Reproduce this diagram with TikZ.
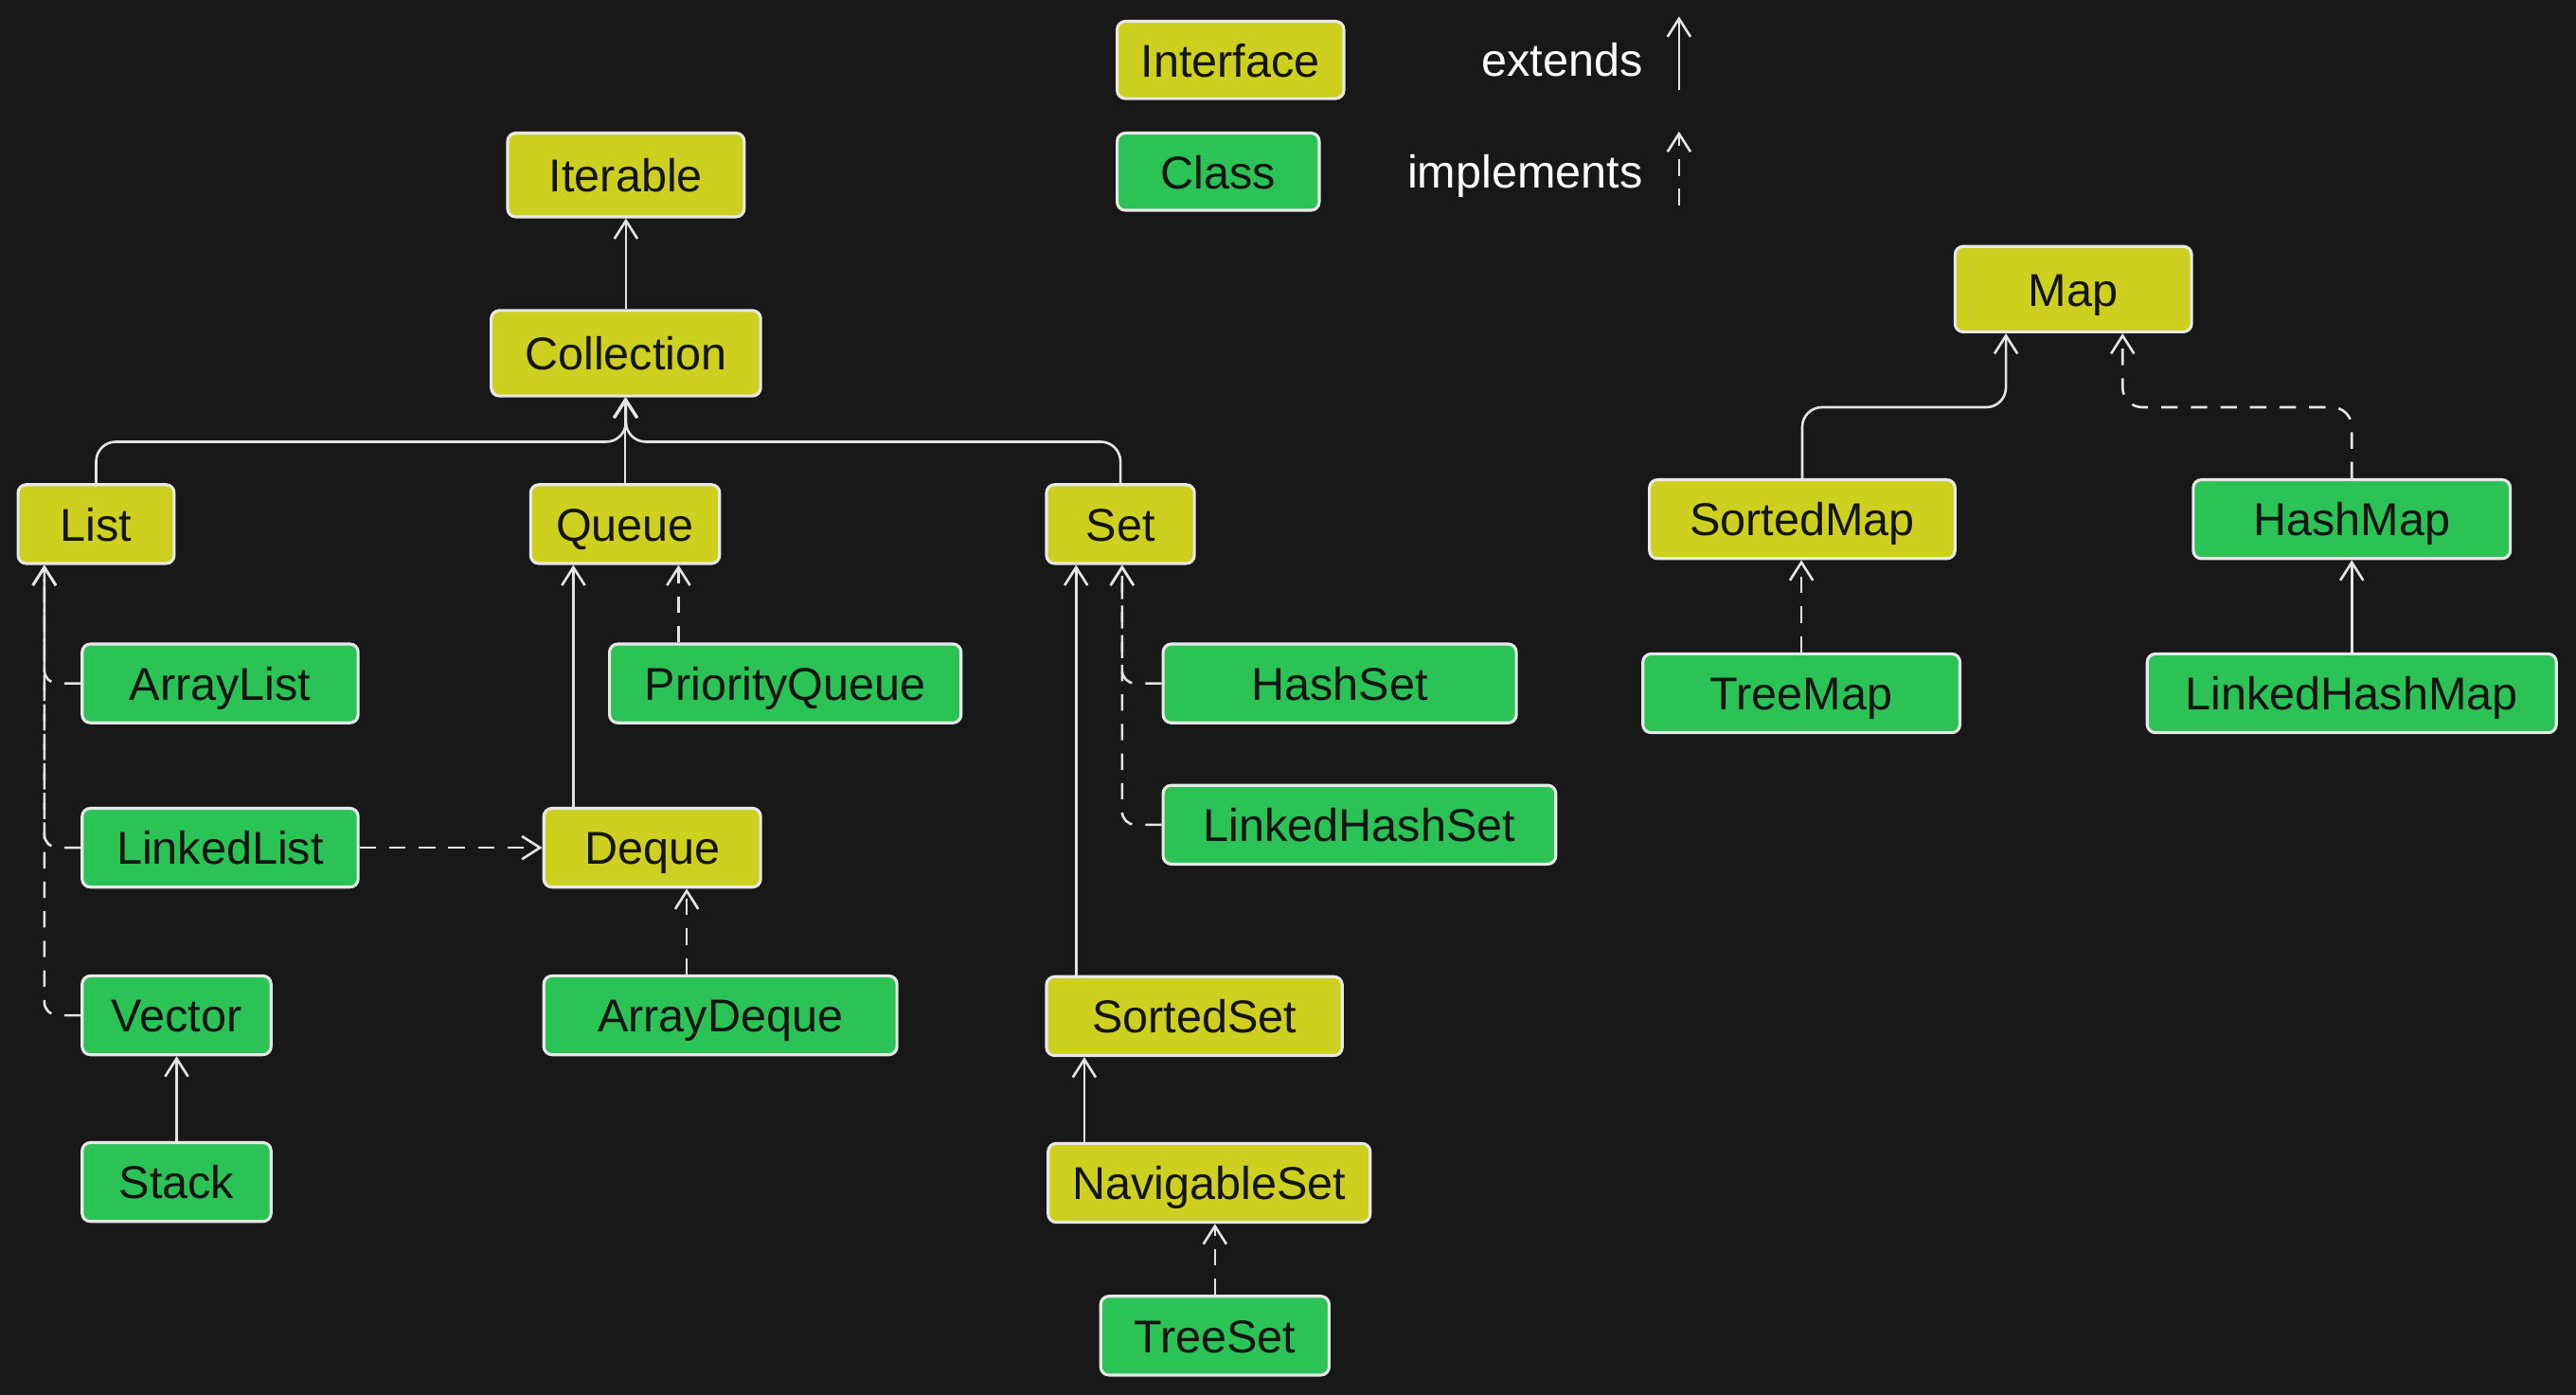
\documentclass[tikz,border=0pt]{standalone}
\usepackage{fontspec}
\setmainfont{Liberation Sans}
\usetikzlibrary{arrows.meta,calc}
\definecolor{bgc}{RGB}{24,24,24}
\definecolor{ifc}{RGB}{205,208,30}
\definecolor{clc}{RGB}{43,194,86}
\definecolor{edgec}{RGB}{232,232,232}
\definecolor{linec}{RGB}{228,228,228}
\definecolor{txt}{RGB}{20,20,20}
\newcommand{\boxfont}{\fontsize{28}{34}\selectfont}
\tikzset{
  boxbase/.style={draw=edgec, line width=1.8pt, rounded corners=5pt, inner sep=0pt,
    text=txt, font=\boxfont, text height=24pt, text depth=3.5pt, minimum height=48pt},
  iface/.style={boxbase, fill=ifc},
  cls/.style={boxbase, fill=clc},
  ext/.style={draw=linec, line width=1.5pt, -{Straight Barb[length=11pt,width=14pt,line width=1.5pt]}},
  impl/.style={ext, dash pattern=on 10pt off 8pt},
  legendtxt/.style={text=white, font=\boxfont, inner sep=0pt, anchor=east, text height=24pt, text depth=3.5pt},
}
\begin{document}
\begin{tikzpicture}[x=1pt,y=-1pt]
\fill[bgc] (0,0) rectangle (1568,849);
\useasboundingbox (0,0) rectangle (1568,849);

% legend
\node[iface, minimum width=138pt, minimum height=47pt] (leginterface) at (749,36.5) {Interface};
\node[cls, minimum width=123pt, minimum height=47pt] (legclass) at (741.5,104.5) {Class};
\node[legendtxt] (extlbl) at (1000,36) {extends};
\node[legendtxt] (impllbl) at (1000,104) {implements};
\coordinate (ea) at (1022,55);
\coordinate (eb) at (1022,10);
\coordinate (ia) at (1022,125);
\coordinate (ib) at (1022,80);
\draw[ext] (ea) -- (eb);
\draw[impl] (ia) -- (ib);

% Collection hierarchy
\node[iface, minimum width=144pt, minimum height=51pt] (iterable) at (381,106.5) {Iterable};
\node[iface, minimum width=164pt, minimum height=52pt] (coll) at (381,215) {Collection};
\node[iface, minimum width=95pt] (list) at (58.5,319) {List};
\node[iface, minimum width=115pt] (queue) at (380.5,319) {Queue};
\node[iface, minimum width=90pt] (set) at (682,319) {Set};

\node[cls, minimum width=168pt] (arraylist) at (134,416) {ArrayList};
\node[cls, minimum width=168pt] (linkedlist) at (134,516) {LinkedList};
\node[cls, minimum width=115pt] (vector) at (107.5,618) {Vector};
\node[cls, minimum width=115pt] (stack) at (107.5,719.5) {Stack};

\node[cls, minimum width=214pt] (pq) at (478,416) {PriorityQueue};
\node[iface, minimum width=132pt] (deque) at (397,516) {Deque};
\node[cls, minimum width=215pt] (arraydeque) at (438.5,618) {ArrayDeque};

\node[cls, minimum width=215pt] (hashset) at (815.5,416) {HashSet};
\node[cls, minimum width=239pt] (lhs) at (827.5,502) {LinkedHashSet};
\node[iface, minimum width=180pt] (sortedset) at (727,618.5) {SortedSet};
\node[iface, minimum width=196pt] (navset) at (736,720) {NavigableSet};
\node[cls, minimum width=139pt] (treeset) at (739.5,813) {TreeSet};

% Map hierarchy
\node[iface, minimum width=144pt, minimum height=52pt] (map) at (1262,176) {Map};
\node[iface, minimum width=186pt] (sortedmap) at (1097,316) {SortedMap};
\node[cls, minimum width=193pt] (hashmap) at (1431.5,316) {HashMap};
\node[cls, minimum width=193pt] (treemap) at (1096.5,422) {TreeMap};
\node[cls, minimum width=249pt] (lhm) at (1431.5,422) {LinkedHashMap};

% connectors
\draw[ext] (coll.north) -- (iterable.south);
\draw[ext, rounded corners=12pt] (list.north) |- ([yshift=-27pt]coll.south) -- (coll.south);
\draw[ext, rounded corners=12pt] (set.north) |- ([yshift=-27pt]coll.south) -- (coll.south);
\draw[ext] (queue.north) -- (queue.north |- coll.south);

\draw[impl, rounded corners=8pt] (arraylist.west) -| ([xshift=-31.5pt]list.south);
\draw[impl, rounded corners=8pt] (linkedlist.west) -| ([xshift=-31.5pt]list.south);
\draw[impl, rounded corners=8pt] (vector.west) -| ([xshift=-31.5pt]list.south);
\draw[ext] (stack.north) -- (vector.south);

\draw[impl] ([xshift=-65pt]pq.north) -- ([xshift=-65pt]pq.north |- queue.south);
\draw[ext] ([xshift=-48pt]deque.north) -- ([xshift=-48pt]deque.north |- queue.south);
\draw[impl] (linkedlist.east) -- (deque.west);
\draw[impl] ([xshift=-20.5pt]arraydeque.north) -- ([xshift=-20.5pt]arraydeque.north |- deque.south);

\draw[impl, rounded corners=8pt] (hashset.west) -| ([xshift=1pt]set.south);
\draw[impl, rounded corners=8pt] (lhs.west) -| ([xshift=1pt]set.south);
\draw[ext] ([xshift=-72pt]sortedset.north) -- ([xshift=-72pt]sortedset.north |- set.south);
\draw[ext] ([xshift=-76pt]navset.north) -- ([xshift=-76pt]navset.north |- sortedset.south);
\draw[impl] (treeset.north) -- (treeset.north |- navset.south);

\draw[ext, rounded corners=12pt] (sortedmap.north) |- ([xshift=-41pt,yshift=-45pt]map.south) -- ([xshift=-41pt]map.south);
\draw[impl, rounded corners=12pt] (hashmap.north) |- ([xshift=30pt,yshift=-45pt]map.south) -- ([xshift=30pt]map.south);
\draw[impl] (treemap.north) -- (treemap.north |- sortedmap.south);
\draw[ext] (lhm.north) -- (lhm.north |- hashmap.south);
\end{tikzpicture}
\end{document}
